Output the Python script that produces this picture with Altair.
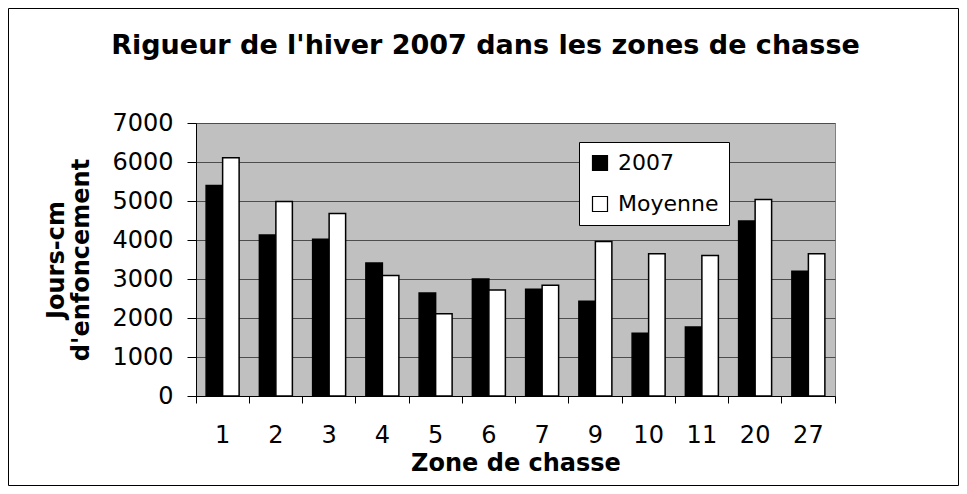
import altair as alt
import pandas as pd

zones = ["1", "2", "3", "4", "5", "6", "7", "9", "10", "11", "20", "27"]
hiver_2007 = [5400, 4130, 4020, 3410, 2640, 3000, 2740, 2430, 1610, 1770, 4490, 3200]
moyenne = [6110, 4990, 4680, 3090, 2110, 2720, 2840, 3960, 3650, 3600, 5040, 3650]
series = ["2007", "Moyenne"]
y_ticks = [0, 1000, 2000, 3000, 4000, 5000, 6000, 7000]

rows = []
for z, a, b in zip(zones, hiver_2007, moyenne):
    rows.append({"zone": z, "serie": "2007", "valeur": a})
    rows.append({"zone": z, "serie": "Moyenne", "valeur": b})
df = pd.DataFrame(rows)

FONT = "DejaVu Sans"

bars = alt.Chart(df).mark_bar(stroke="black", strokeWidth=1.5).encode(
    x=alt.X(
        "zone:N",
        sort=zones,
        scale=alt.Scale(paddingInner=0, paddingOuter=0),
        axis=alt.Axis(
            title="Zone de chasse",
            labelAngle=0,
            bandPosition=1,
            tickExtra=True,
            grid=False,
            domainColor="black",
            tickColor="black",
            tickSize=7,
            labelFont=FONT,
            labelFontSize=24,
            labelColor="black",
            labelPadding=20,
            titleFont=FONT,
            titleFontSize=24,
            titleFontWeight="bold",
            titleColor="black",
            titlePadding=4,
        ),
    ),
    xOffset=alt.XOffset("serie:N", sort=series,
                        scale=alt.Scale(paddingInner=0, paddingOuter=0.614)),
    y=alt.Y(
        "valeur:Q",
        scale=alt.Scale(domain=[0, 7000], nice=False),
        axis=alt.Axis(
            values=y_ticks,
            format="d",
            title=["Jours-cm", "d'enfoncement"],
            grid=True,
            gridColor="#4d4d4d",
            gridWidth=1,
            domainColor="black",
            tickColor="black",
            tickSize=9,
            labelFont=FONT,
            labelFontSize=24,
            labelColor="black",
            labelPadding=14,
            titleFont=FONT,
            titleFontSize=24,
            titleFontWeight="bold",
            titleColor="black",
            titleLineHeight=25,
            titlePadding=18,
        ),
    ),
    color=alt.Color(
        "serie:N",
        sort=series,
        scale=alt.Scale(domain=series, range=["#000000", "#ffffff"]),
        legend=alt.Legend(
            title=None,
            orient="none",
            legendX=383,
            legendY=19,
            fillColor="white",
            strokeColor="black",
            padding=10,
            symbolType="square",
            symbolSize=225,
            symbolStrokeColor="black",
            symbolStrokeWidth=1.2,
            labelFont=FONT,
            labelFontSize=22,
            labelColor="black",
            labelOffset=7,
            rowPadding=19,
        ),
    ),
)

border = alt.Chart(alt.Data(values=[{}])).mark_rect(
    fill=None, stroke="black", strokeWidth=1
).encode(
    x=alt.value(-187.5), x2=alt.value(762.5),
    y=alt.value(-114.5), y2=alt.value(362.5),
)

chart = alt.layer(bars, border).properties(
    width=639,
    height=273,
    background="white",
    autosize=alt.AutoSizeParams(type="none"),
    padding={"left": 188, "top": 115, "right": 124, "bottom": 90},
    title=alt.TitleParams(
        "Rigueur de l'hiver 2007 dans les zones de chasse",
        font=FONT,
        fontSize=27,
        fontWeight="bold",
        color="black",
        anchor="middle",
        baseline="alphabetic",
        offset=0,
        dy=73,
        dx=-30,
    ),
).configure_view(
    fill="#c0c0c0", stroke="#808080"
)

chart.save("out.html", embed_options={"renderer": "svg", "actions": False})
